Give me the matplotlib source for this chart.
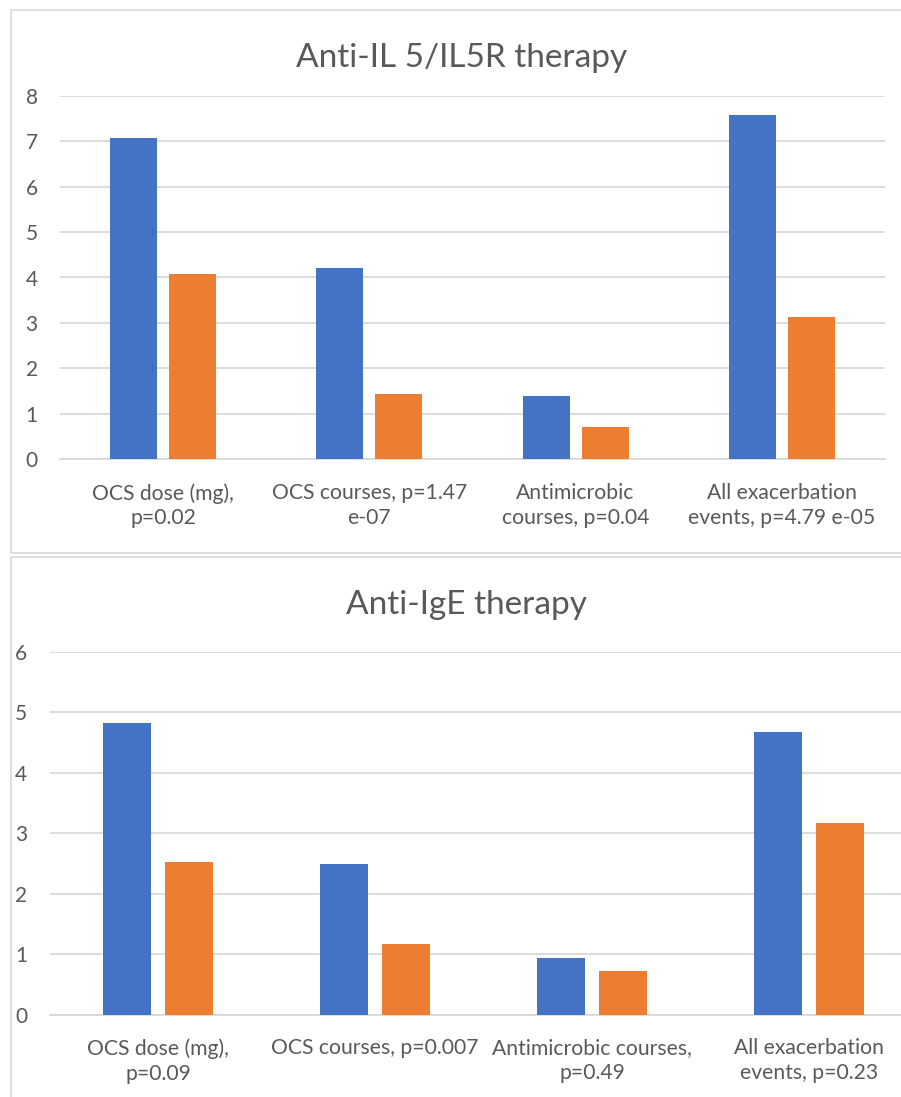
import matplotlib.pyplot as plt
from matplotlib.patches import Rectangle

# data
top_labels = ["OCS dose (mg),\np=0.02", "OCS courses, p=1.47\ne-07",
              "Antimicrobic\ncourses, p=0.04", "All exacerbation\nevents, p=4.79 e-05"]
top_blue = [7.07, 4.21, 1.40, 7.58]
top_orange = [4.07, 1.44, 0.71, 3.13]

bot_labels = ["OCS dose (mg),\np=0.09", "OCS courses, p=0.007",
              "Antimicrobic courses,\np=0.49", "All exacerbation\nevents, p=0.23"]
bot_blue = [4.82, 2.49, 0.94, 4.68]
bot_orange = [2.53, 1.17, 0.72, 3.17]

BLUE = "#4472C4"
ORANGE = "#ED7D31"
GRID = "#D9D9D9"
TXT = "#595959"

plt.rcParams['font.family'] = ['Lato', 'DejaVu Sans']

W, H = 901, 1097
fig = plt.figure(figsize=(W / 100, H / 100), dpi=100)


def px(x0, y0, x1, y1):
    # pixel box (top-left origin) -> figure fraction rect
    return [x0 / W, 1 - y1 / H, (x1 - x0) / W, (y1 - y0) / H]


# panel frames
for (x0, y0, x1, y1) in [(11, 10, 940, 553), (11, 557, 940, 1120)]:
    r = px(x0, y0, x1, y1)
    fig.add_artist(Rectangle((r[0], r[1]), r[2], r[3], transform=fig.transFigure,
                             fill=False, edgecolor=GRID, linewidth=1.2))


def draw(ax, labels, blue, orange, ymax, width, off):
    x = list(range(len(labels)))
    ax.bar([i - off for i in x], blue, width, color=BLUE, zorder=3)
    ax.bar([i + off for i in x], orange, width, color=ORANGE, zorder=3)
    ax.set_xlim(-0.5, len(labels) - 0.5)
    ax.set_ylim(0, ymax)
    ax.set_yticks(range(0, ymax + 1))
    ax.yaxis.grid(True, color=GRID, linewidth=1.3, zorder=0)
    ax.set_axisbelow(True)
    for s in ["top", "right", "left"]:
        ax.spines[s].set_visible(False)
    ax.spines["bottom"].set_color(GRID)
    ax.spines["bottom"].set_linewidth(1.3)
    ax.set_xticks(x)
    ax.set_xticklabels(labels, fontsize=15.2, color=TXT, linespacing=1.3)
    ax.tick_params(axis="x", length=0, pad=17)
    ax.tick_params(axis="y", length=0, pad=16, labelsize=15, labelcolor=TXT)
    ax.patch.set_alpha(0)


ax1 = fig.add_axes(px(60, 95.7, 885, 459.3))
draw(ax1, top_labels, top_blue, top_orange, 8, 0.228, 0.143)
ax2 = fig.add_axes(px(49.5, 651.8, 917.5, 1014.8))
draw(ax2, bot_labels, bot_blue, bot_orange, 6, 0.222, 0.141)

fig.text(462 / W, 1 - 67 / H, "Anti-IL 5/IL5R therapy", ha="center", va="baseline",
         fontsize=24, color=TXT)
fig.text(466 / W, 1 - 614 / H, "Anti-IgE therapy", ha="center", va="baseline",
         fontsize=24, color=TXT)

fig.savefig("out.png", dpi=100)
